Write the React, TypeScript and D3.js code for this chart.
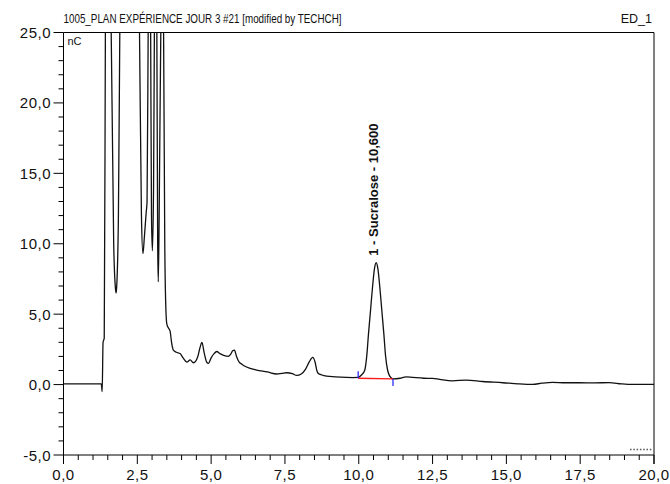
import React from "react";
import * as d3 from "d3";

// Chromatogram trace: retention time (min) and detector response (nC)
const times = [
  0.0, 0.5, 1.0, 1.28, 1.31, 1.34, 1.38, 1.42, 1.52, 1.61, 1.7, 1.76, 1.78, 1.8, 1.86, 1.91,
  2.2, 2.57, 2.64, 2.69, 2.74, 2.8, 2.83, 2.87, 2.91, 2.95, 2.98, 3.01, 3.05, 3.08, 3.12, 3.16,
  3.19, 3.21, 3.24, 3.3, 3.36, 3.39, 3.43, 3.47, 3.5, 3.56, 3.61, 3.66, 3.72, 3.82, 3.95, 4.05,
  4.18, 4.29, 4.4, 4.55, 4.62, 4.69, 4.76, 4.85, 4.91, 5.0, 5.1, 5.19, 5.3, 5.45, 5.58, 5.66,
  5.73, 5.79, 5.86, 5.95, 6.04, 6.2, 6.54, 6.9, 7.22, 7.4, 7.56, 7.75, 7.9, 8.05, 8.2, 8.32,
  8.44, 8.52, 8.58, 8.63, 8.75, 8.91, 9.2, 9.58, 9.8, 9.98, 10.1, 10.2, 10.27, 10.33, 10.4, 10.47,
  10.53, 10.59, 10.65, 10.71, 10.78, 10.85, 10.91, 10.98, 11.05, 11.16, 11.4, 11.6, 11.83, 12.2,
  12.5, 12.74, 13.18, 13.64, 14.2, 14.88, 15.4, 15.89, 16.2, 16.56, 17.0, 17.47, 18.0, 18.48,
  18.9, 19.27, 19.6, 20.0,
];
const response = [
  0.05, 0.05, 0.05, 0.05, -0.5, 3.0, 3.3, 26, 60, 26, 10, 6.8, 6.5, 6.9, 12, 26,
  70, 26, 12, 9.3, 10.5, 12.2, 13, 26, 40, 26, 12, 9.5, 14, 26, 40, 26,
  10, 7.3, 12, 26, 30, 25, 10, 5.2, 4.3, 4.0, 3.8, 3.0, 2.45, 2.3, 2.2, 1.9,
  1.6, 1.75, 1.55, 2.0, 2.6, 3.0, 2.3, 1.6, 1.5, 1.9, 2.2, 2.35, 2.2, 2.05, 2.0, 2.15,
  2.4, 2.45, 2.0, 1.6, 1.45, 1.25, 1.03, 0.9, 0.75, 0.8, 0.84, 0.78, 0.65, 0.75, 1.1, 1.6,
  1.93, 1.6, 1.0, 0.79, 0.68, 0.6, 0.55, 0.51, 0.5, 0.51, 0.7, 1.0, 2.0, 3.6, 5.3, 7.0,
  8.2, 8.65, 8.2, 7.0, 5.3, 3.6, 2.0, 1.0, 0.6, 0.4, 0.45, 0.55, 0.51, 0.45,
  0.44, 0.37, 0.27, 0.32, 0.22, 0.13, 0.05, 0.01, 0.1, 0.16, 0.13, 0.13, 0.12, 0.14,
  0.05, 0.01, 0.02, 0.01,
];

// Integrated peak: name, retention time, baseline start/end
const peakNames = ["1 - Sucralose - 10,600"];
const peakTimes = [10.6];
const peakApex = [8.65];
const baselineStart = [9.98, 0.45];
const baselineEnd = [11.16, 0.4];

const yTicks = [-5, 0, 5, 10, 15, 20, 25];
const xTicks = [0, 2.5, 5, 7.5, 10, 12.5, 15, 17.5, 20];
const titleText = "1005_PLAN EXPÉRIENCE JOUR 3 #21 [modified by TECHCH]";
const channelText = "ED_1";
const unitText = "nC";

const W = 670;
const H = 484;
const left = 63.5;
const right = 654;
const top = 32.5;
const bottom = 455;
const font = "'Liberation Sans', Arial, sans-serif";

export default function App() {
  const x = d3.scaleLinear().domain([0, 20]).range([left, right]);
  const y = d3.scaleLinear().domain([-5, 25]).range([bottom, top]);
  const fmt = (v: number) => d3.format(".1f")(v).replace(".", ",").replace("−", "-");

  const pts: [number, number][] = times.map((t, i) => [t, response[i]]);
  const line = d3
    .line<[number, number]>()
    .x((d) => x(d[0]))
    .y((d) => y(d[1]))
    .curve(d3.curveMonotoneX);

  const yMinor = d3.range(-5, 25.01, 1).filter((v) => !yTicks.includes(v));
  const xMinor = d3.range(0, 20.01, 0.5).filter((v) => !xTicks.includes(v));

  return (
    <svg
      width={W}
      height={H}
      style={{ position: "absolute", left: 0, top: 0, background: "#fff" }}
      fontFamily={font}
    >
      <defs>
        <clipPath id="plot-clip">
          <rect x={left} y={top} width={right - left} height={bottom - top} />
        </clipPath>
      </defs>
      <rect x={0} y={0} width={W} height={H} fill="#fff" />

      {/* title row */}
      <text
        x={left}
        y={23}
        fontSize={13}
        fill="#111"
        textLength={278}
        lengthAdjust="spacingAndGlyphs"
      >
        {titleText}
      </text>
      <text x={652} y={23} fontSize={12.5} fill="#111" textAnchor="end">
        {channelText}
      </text>

      {/* frame */}
      <line x1={left} x2={right} y1={top} y2={top} stroke="#000" strokeWidth={1} />
      <line x1={right} x2={right} y1={top} y2={bottom + 9} stroke="#000" strokeWidth={1} />
      <line x1={left} x2={left} y1={top} y2={bottom} stroke="#000" strokeWidth={1} />
      <line x1={left} x2={right} y1={bottom} y2={bottom} stroke="#000" strokeWidth={1} />

      {/* y axis */}
      {yTicks.map((v) => (
        <g key={"yt" + v}>
          <line x1={left - 10} x2={left} y1={y(v)} y2={y(v)} stroke="#000" />
          <text
            x={51}
            y={y(v) + 5.5}
            fontSize={15}
            letterSpacing={0.5}
            textAnchor="end"
            fill="#111"
          >
            {fmt(v)}
          </text>
        </g>
      ))}
      {yMinor.map((v) => (
        <line key={"ym" + v} x1={left - 5} x2={left} y1={y(v)} y2={y(v)} stroke="#000" />
      ))}

      {/* x axis */}
      {xTicks.map((v) => (
        <g key={"xt" + v}>
          <line x1={x(v)} x2={x(v)} y1={bottom} y2={bottom + 9} stroke="#000" />
          <text
            x={x(v)}
            y={480}
            fontSize={15}
            letterSpacing={0.5}
            textAnchor="middle"
            fill="#111"
          >
            {fmt(v)}
          </text>
        </g>
      ))}
      {xMinor.map((v) => (
        <line key={"xm" + v} x1={x(v)} x2={x(v)} y1={bottom} y2={bottom + 5} stroke="#000" />
      ))}

      <text x={left + 4} y={45} fontSize={11} fill="#111">
        {unitText}
      </text>

      {/* small scale marker */}
      <line
        x1={630}
        x2={652}
        y1={449.5}
        y2={449.5}
        stroke="#555"
        strokeWidth={1.5}
        strokeDasharray="1.5 1.8"
      />

      {/* trace */}
      <path
        d={line(pts) || ""}
        fill="none"
        stroke="#111"
        strokeWidth={1.3}
        clipPath="url(#plot-clip)"
      />

      {/* integration baseline and delimiters */}
      <line
        x1={x(baselineStart[0])}
        x2={x(baselineEnd[0])}
        y1={y(baselineStart[1])}
        y2={y(baselineEnd[1])}
        stroke="#ff1a1a"
        strokeWidth={1.3}
      />
      <line
        x1={x(baselineStart[0])}
        x2={x(baselineStart[0])}
        y1={y(baselineStart[1]) - 7}
        y2={y(baselineStart[1])}
        stroke="#1a1aff"
        strokeWidth={1.2}
      />
      <line
        x1={x(baselineEnd[0])}
        x2={x(baselineEnd[0])}
        y1={y(baselineEnd[1])}
        y2={y(baselineEnd[1]) + 7}
        stroke="#1a1aff"
        strokeWidth={1.2}
      />

      {/* peak label */}
      {peakNames.map((name, i) => {
        const px = x(peakTimes[i]) + 2;
        const py = y(peakApex[i]) - 7;
        return (
          <text
            key={name}
            transform={`translate(${px},${py}) rotate(-90)`}
            fontSize={13}
            fontWeight="bold"
            fill="#111"
          >
            {name}
          </text>
        );
      })}
    </svg>
  );
}
